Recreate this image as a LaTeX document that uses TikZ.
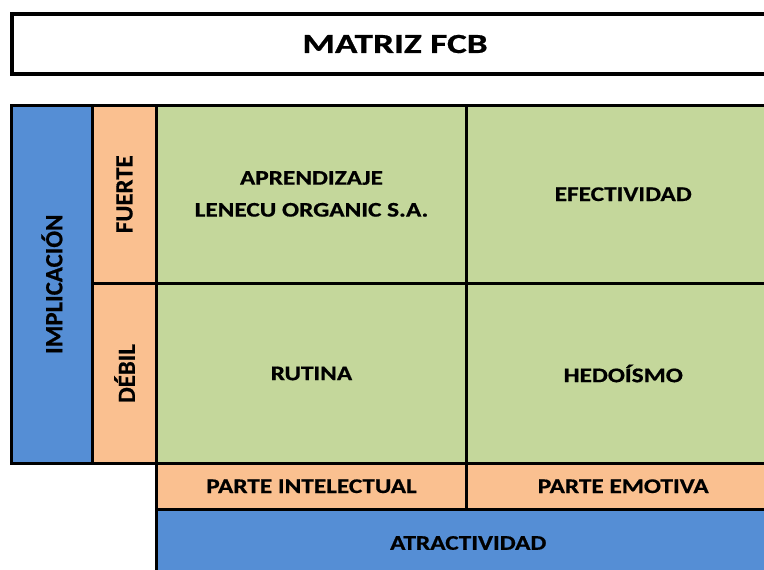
\documentclass[tikz,border=0pt]{standalone}
\usepackage{fontspec}
\setmainfont{Carlito}[BoldFeatures={FakeBold=0.6}]
\usepackage{graphicx}
\definecolor{cblue}{HTML}{558ED5}
\definecolor{corange}{HTML}{FAC090}
\definecolor{cgreen}{HTML}{C4D79B}
\newcommand{\hx}[1]{\scalebox{1.02}[0.84]{#1}}
\newcommand{\vx}[1]{\rotatebox{90}{#1}}
\tikzset{
  cell/.style={draw=black, line width=3pt, anchor=north west, inner sep=0pt, outer sep=0pt,
    font=\bfseries\fontsize{24.8}{38}\selectfont, align=center},
}
\begin{document}
\begin{tikzpicture}[x=1pt,y=-1pt]
\useasboundingbox (0,0) rectangle (764,570);
\clip (0,0) rectangle (764,570);
\node[cell, line width=4pt, minimum width=766pt, minimum height=60pt, fill=white] (title) at (12,14)
  {\raisebox{-1pt}{\scalebox{1.05}[0.78]{\fontsize{35.5}{40}\selectfont MATRIZ FCB}}};
\node[cell, fill=cblue, minimum width=81pt, minimum height=358.5pt] (implic) at (11.5,105) {\vx{IMPLICACIÓN}};
\node[cell, fill=corange, minimum width=64pt, minimum height=178.5pt] (fuerte) at (92.5,105) {\vx{FUERTE}};
\node[cell, fill=corange, minimum width=64pt, minimum height=180pt] (debil) at (92.5,283.5) {\vx{DÉBIL}};
\node[cell, fill=cgreen, minimum width=310pt, minimum height=178.5pt] (aprend) at (156.5,105)
  {\hx{\begin{tabular}{@{}c@{}}APRENDIZAJE\\LENECU ORGANIC S.A.\end{tabular}}};
\node[cell, fill=cgreen, minimum width=313.5pt, minimum height=178.5pt] (efect) at (466.5,105) {\hx{EFECTIVIDAD}};
\node[cell, fill=cgreen, minimum width=310pt, minimum height=180pt] (rutina) at (156.5,283.5) {\hx{RUTINA}};
\node[cell, fill=cgreen, minimum width=313.5pt, minimum height=180pt] (hedo) at (466.5,283.5) {\hx{HEDOÍSMO}};
\node[cell, fill=corange, minimum width=310pt, minimum height=45.5pt] (intel) at (156.5,463.5) {\hx{PARTE INTELECTUAL}};
\node[cell, fill=corange, minimum width=313.5pt, minimum height=45.5pt] (emot) at (466.5,463.5) {\hx{PARTE EMOTIVA}};
\node[cell, fill=cblue, minimum width=623.5pt, minimum height=68pt] (atrac) at (156.5,509) {\hx{ATRACTIVIDAD}};
\end{tikzpicture}
\end{document}
